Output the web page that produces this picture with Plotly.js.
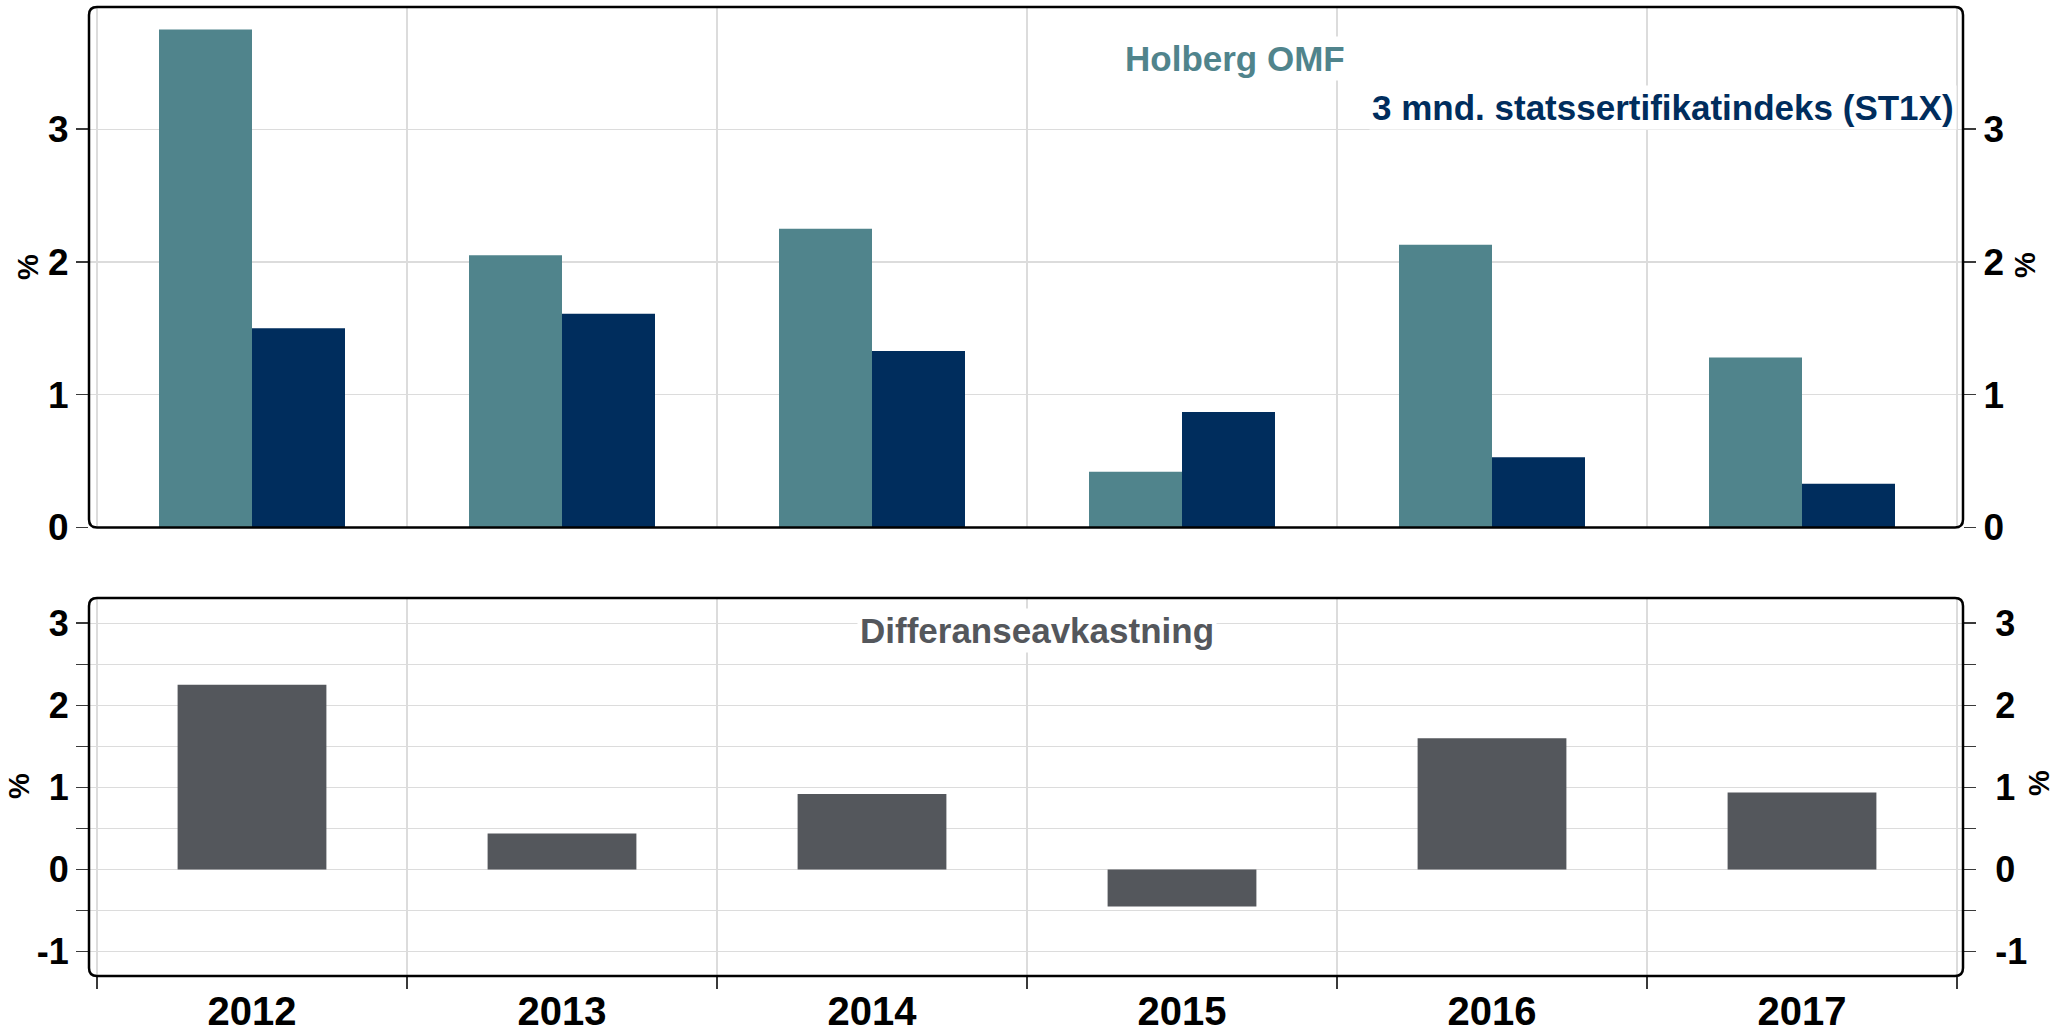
<!DOCTYPE html>
<html>
<head>
<meta charset="utf-8">
<script src="https://cdn.plot.ly/plotly-3.0.1.min.js"></script>
<style>html,body{margin:0;padding:0;background:#fff;}#chart{width:2069px;height:1035px;}</style>
</head>
<body>
<div id="chart"></div>
<script>
// ---- data ----
const years = ["2012", "2013", "2014", "2015", "2016", "2017"];
const holbergOMF = [3.75, 2.05, 2.25, 0.42, 2.13, 1.28];
const st1x = [1.50, 1.61, 1.33, 0.87, 0.53, 0.33];
const differanse = [2.25, 0.44, 0.92, -0.45, 1.60, 0.94];
const seriesNames = ["Holberg OMF", "3 mnd. statssertifikatindeks (ST1X)", "Differanseavkastning"];
const topTicks = [0, 1, 2, 3];
const bottomTicks = [-1, -0.5, 0, 0.5, 1, 1.5, 2, 2.5, 3];
const bottomTickText = ["-1", "", "0", "", "1", "", "2", "", "3"];

// ---- styles ----
const FONT = '"Liberation Sans", Arial, "Helvetica Neue", sans-serif';
const cTeal = '#50848c', cNavy = '#002d5d', cGray = '#54575c';
const W = 2069, H = 1035;
const M = {l: 89, r: 106, t: 7, b: 59};
const PW = W - M.l - M.r, PH = H - M.t - M.b;
const px2x = p => (p - M.l) / PW;
const px2y = p => (H - M.b - p) / PH;

const topDomain = [px2y(527.5), 1];
const botDomain = [0, px2y(598)];
const xRange = [-0.5 - 8 / 310, -0.5 + 1866 / 310];
const topRange = [0, 3.92];
const botRange = [-1.296, 3.307];

const gridC = '#dcdcdc';
const tickC = '#3a3a3a';

const traces = [
  {type: 'bar', name: seriesNames[0], x: years, y: holbergOMF, xaxis: 'x', yaxis: 'y',
   marker: {color: cTeal}, hoverinfo: 'skip', showlegend: false},
  {type: 'bar', name: seriesNames[1], x: years, y: st1x, xaxis: 'x', yaxis: 'y',
   marker: {color: cNavy}, hoverinfo: 'skip', showlegend: false},
  {type: 'bar', name: seriesNames[2], x: years, y: differanse, xaxis: 'x2', yaxis: 'y2',
   width: 0.48, marker: {color: cGray}, hoverinfo: 'skip', showlegend: false},
  // carriers for the right-hand axes
  {type: 'scatter', mode: 'markers', x: years, y: holbergOMF, xaxis: 'x', yaxis: 'y3',
   marker: {opacity: 0}, hoverinfo: 'skip', showlegend: false},
  {type: 'scatter', mode: 'markers', x: years, y: differanse, xaxis: 'x2', yaxis: 'y4',
   marker: {opacity: 0}, hoverinfo: 'skip', showlegend: false}
];

function yAx(domain, range, tickvals, ticktext, size, extra) {
  return Object.assign({
    domain: domain, range: range, autorange: false, tickmode: 'array',
    tickvals: tickvals, ticktext: ticktext, ticks: 'outside', ticklen: 12,
    tickwidth: 1.5, tickcolor: tickC, showline: false, zeroline: false,
    showgrid: true, gridcolor: gridC, gridwidth: 1.2,
    tickfont: {family: FONT, size: size, color: '#000', weight: 'bold'},
    fixedrange: true
  }, extra || {});
}

function frame(y0, y1) {
  const x0 = 0, x1 = 1, rx = 8 / PW, ry = 8 / PH;
  return {
    type: 'path', xref: 'paper', yref: 'paper', layer: 'above',
    line: {color: '#000', width: 2.5},
    path: `M ${x0 + rx} ${y1} L ${x1 - rx} ${y1} Q ${x1} ${y1} ${x1} ${y1 - ry} ` +
          `L ${x1} ${y0 + ry} Q ${x1} ${y0} ${x1 - rx} ${y0} L ${x0 + rx} ${y0} ` +
          `Q ${x0} ${y0} ${x0} ${y0 + ry} L ${x0} ${y1 - ry} Q ${x0} ${y1} ${x0 + rx} ${y1} Z`
  };
}

function ann(text, xp, yp, size, color, xanchor, angle) {
  return {
    text: text, xref: 'paper', yref: 'paper', x: px2x(xp), y: px2y(yp),
    xanchor: xanchor || 'center', yanchor: 'middle', showarrow: false,
    textangle: angle || 0, bgcolor: angle ? 'rgba(0,0,0,0)' : '#fff',
    borderpad: angle ? 0 : 2,
    font: {family: FONT, size: size, color: color, weight: 'bold'}
  };
}

const layout = {
  width: W, height: H, margin: M,
  paper_bgcolor: '#fff', plot_bgcolor: '#fff',
  barmode: 'group', bargap: 0.4, bargroupgap: 0,
  showlegend: false,
  xaxis: {domain: [0, 1], anchor: 'y', type: 'category', range: xRange, autorange: false,
          tickson: 'boundaries', showgrid: true, gridcolor: gridC, gridwidth: 1.2,
          showticklabels: false, ticks: '', zeroline: false, showline: false, fixedrange: true},
  xaxis2: {domain: [0, 1], anchor: 'y2', type: 'category', range: xRange, autorange: false,
           tickson: 'boundaries', showgrid: true, gridcolor: gridC, gridwidth: 1.2,
           ticks: 'outside', ticklen: 12, tickwidth: 1.5, tickcolor: tickC,
           ticklabelstandoff: 8,
           tickfont: {family: FONT, size: 40, color: '#000', weight: 'bold'},
           zeroline: false, showline: false, fixedrange: true},
  yaxis: yAx(topDomain, topRange, topTicks, topTicks.map(String), 37, {anchor: 'x'}),
  yaxis3: yAx(topDomain, topRange, topTicks, topTicks.map(String), 37,
              {anchor: 'x', overlaying: 'y', side: 'right', showgrid: false}),
  yaxis2: yAx(botDomain, botRange, bottomTicks, bottomTickText, 36, {anchor: 'x2'}),
  yaxis4: yAx(botDomain, botRange, bottomTicks, bottomTickText, 36,
              {anchor: 'x2', overlaying: 'y2', side: 'right', showgrid: false,
               ticklabelstandoff: 12}),
  shapes: [frame(topDomain[0], 1), frame(0, botDomain[1])],
  annotations: [
    ann(seriesNames[0], 1235, 58, 35, cTeal, 'center'),
    ann(seriesNames[1], 1957, 108, 35, cNavy, 'right'),
    ann(seriesNames[2], 1037, 630, 35, cGray, 'center'),
    ann('%', 28, 267, 29, '#000', 'center', -90),
    ann('%', 19, 786, 29, '#000', 'center', -90),
    ann('%', 2025, 265, 29, '#000', 'center', -90),
    ann('%', 2039, 783, 29, '#000', 'center', -90)
  ]
};

Plotly.newPlot('chart', traces, layout, {displayModeBar: false, staticPlot: true});
</script>
</body>
</html>
